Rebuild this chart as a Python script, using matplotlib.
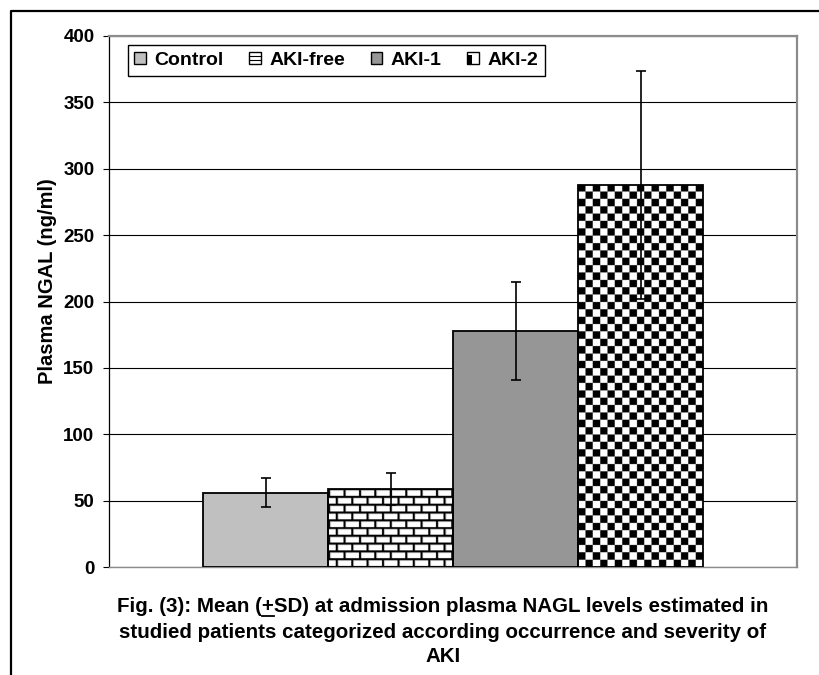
import numpy as np
import matplotlib
matplotlib.use("Agg")
import matplotlib.pyplot as plt
from matplotlib import font_manager
from matplotlib.lines import Line2D
from matplotlib.patches import Rectangle
from matplotlib.legend_handler import HandlerBase

# ── data ─────────────────────────────────────────────────────────────────────
groups = ["Control", "AKI-free", "AKI-1", "AKI-2"]
mean_ngal = [56, 59, 178, 288]
sd_ngal = [11, 12, 37, 86]
y_ticks = [0, 50, 100, 150, 200, 250, 300, 350, 400]
y_label = "Plasma NGAL (ng/ml)"
caption_lines = [
    "Fig. (3): Mean (+SD) at admission plasma NAGL levels estimated in",
    "studied patients categorized according occurrence and severity of",
    "AKI",
]

# ── styles ───────────────────────────────────────────────────────────────────
FILLS = ["#c0c0c0", "white", "#969696", "black"]
ICON_FILLS = ["#c0c0c0", "white", "#969696", "white"]
PATTERNS = [None, "brick", None, "checker"]
W_PX, H_PX, DPI = 819, 675, 100


def pick_font(names):
    for n in names:
        try:
            font_manager.findfont(font_manager.FontProperties(family=n), fallback_to_default=False)
            return n
        except Exception:
            pass
    return "DejaVu Sans"


FONT = pick_font(["Liberation Sans", "Arial"])
plt.rcParams["font.family"] = FONT
plt.rcParams["font.weight"] = "bold"


def pattern_image(kind, w_px, h_px, ss=4):
    """Brick / checkerboard texture, 1 = white, 0 = black, supersampled."""
    ii, jj = np.mgrid[0:int(h_px * ss), 0:int(w_px * ss)] / ss
    if kind == "checker":
        c = 7.35
        return ((ii // c + jj // c) % 2).astype(float)
    row_h, brick_w, mortar = 7.7, 15.4, 2.0
    row = ii // row_h
    yy = ii - row * row_h
    xx = (jj + (row % 2) * brick_w / 2) % brick_w
    img = np.ones_like(ii)
    # faint grey rim on each brick, black mortar
    img[(yy < mortar + 0.8) | (xx < mortar + 0.8)] = 0.8
    img[(yy < mortar) | (xx < mortar)] = 0.0
    return img


class IconHandler(HandlerBase):
    def __init__(self, kind, color):
        super().__init__()
        self.kind, self.color = kind, color

    def create_artists(self, legend, orig_handle, xdescent, ydescent,
                       width, height, fontsize, trans):
        s = height
        x0, y0 = -xdescent + (width - s) / 2, -ydescent
        arts = [Rectangle((x0, y0), s, s, facecolor=self.color,
                          edgecolor="black", lw=1.0, transform=trans)]
        if self.kind == "brick":
            for f in (0.3, 0.7):
                arts.append(Line2D([x0, x0 + s], [y0 + f * s] * 2, color="black",
                                   lw=0.8, transform=trans))
        elif self.kind == "checker":
            arts.append(Rectangle((x0, y0), 0.4 * s, 0.75 * s, facecolor="black",
                                  edgecolor="none", transform=trans))
        return arts


fig = plt.figure(figsize=(W_PX / DPI, H_PX / DPI), dpi=DPI)
ax = fig.add_axes([109 / W_PX, 1 - 567 / H_PX, 688 / W_PX, 531 / H_PX])

x = np.arange(len(groups))
xlim = (1.5 - 2.752, 1.5 + 2.752)
ylim = (0, 400)
px_per_x = 688 / (xlim[1] - xlim[0])
px_per_y = 531 / (ylim[1] - ylim[0])

bars = ax.bar(x, mean_ngal, width=1.0, color=FILLS, edgecolor="none", zorder=2)
for b, kind in zip(bars, PATTERNS):
    if kind is None:
        continue
    bx, bw, bh = b.get_x(), b.get_width(), b.get_height()
    img = pattern_image(kind, bw * px_per_x, bh * px_per_y)
    im = ax.imshow(img, cmap="gray", vmin=0, vmax=1, extent=(bx, bx + bw, 0, bh),
                   origin="upper", aspect="auto", interpolation="antialiased", zorder=2.5)
    im.set_clip_path(b)
ax.bar(x, mean_ngal, width=1.0, fill=False, edgecolor="black", linewidth=1.3, zorder=3)
ax.errorbar(x, mean_ngal, yerr=sd_ngal, fmt="none", ecolor="black", elinewidth=1.2,
            capsize=3.6, capthick=1.2, zorder=4)

ax.set_xlim(*xlim)
ax.set_ylim(*ylim)
ax.set_yticks(y_ticks)
ax.set_xticks([])
ax.tick_params(axis="y", direction="out", length=4.5, width=0.8, color="black",
               labelsize=13.5, pad=6)
for lab in ax.get_yticklabels():
    lab.set_fontweight("bold")
ax.yaxis.grid(True, color="black", linewidth=0.8, zorder=0)
ax.set_axisbelow(True)
for side in ("top", "right", "bottom"):
    ax.spines[side].set_color("#8c8c8c")
    ax.spines[side].set_linewidth(1.6)
ax.spines["bottom"].set_linewidth(1.0)
ax.spines["left"].set_color("black")
ax.spines["left"].set_linewidth(0.9)

fig.text(48 / W_PX, 1 - 281 / H_PX, y_label, rotation=90, ha="center", va="center",
         fontsize=14.5, fontweight="bold")

handles = [Rectangle((0, 0), 1, 1) for _ in groups]
hmap = {h: IconHandler(k, c) for h, k, c in zip(handles, PATTERNS, ICON_FILLS)}
leg = ax.legend(handles, groups, handler_map=hmap, ncol=4, loc="upper left",
                bbox_to_anchor=(19 / 688, 1 - 9 / 531), prop={"size": 14, "weight": "bold"},
                frameon=True, fancybox=False, edgecolor="black", framealpha=1,
                handlelength=0.55, handleheight=0.55, handletextpad=0.45,
                columnspacing=1.35, borderpad=0.35, borderaxespad=0)
leg.get_frame().set_linewidth(1.0)

# outer frame (left + top)
fig.add_artist(Line2D([11 / W_PX, 11 / W_PX, 1.0], [0.0, 1 - 11 / H_PX, 1 - 11 / H_PX],
                      color="black", lw=1.6, transform=fig.transFigure))

# caption, with the "+" underlined as in the original
cap_x = 443 / W_PX
cap_y = [607, 632, 657]
cap_kw = dict(ha="center", va="center", fontsize=14.8, fontweight="bold")
cap_texts = [fig.text(cap_x, 1 - yy / H_PX, s, **cap_kw) for s, yy in zip(caption_lines, cap_y)]

renderer = fig.canvas.get_renderer()


def text_w(s):
    t = fig.text(0, 0, s, **cap_kw)
    w = t.get_window_extent(renderer).width
    t.remove()
    return w


line0 = caption_lines[0]
k = line0.index("+")
full_w = cap_texts[0].get_window_extent(renderer).width
x_start = cap_x * W_PX - full_w / 2 + text_w(line0[:k])
x_end = cap_x * W_PX - full_w / 2 + text_w(line0[:k + 1])
y_ul = H_PX - cap_y[0] - 9
fig.add_artist(Line2D([x_start / W_PX, x_end / W_PX], [y_ul / H_PX] * 2, color="black",
                      lw=1.3, transform=fig.transFigure))

fig.savefig("out.png", dpi=DPI)
